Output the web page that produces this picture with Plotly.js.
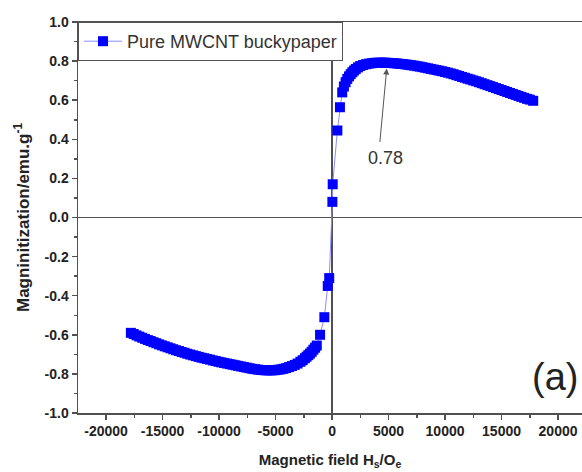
<!DOCTYPE html>
<html>
<head>
<meta charset="utf-8">
<script src="https://cdn.plot.ly/plotly-3.0.1.min.js"></script>
<style>html,body{margin:0;padding:0;background:#fff;}#chart{width:582px;height:472px;}</style>
</head>
<body>
<div id="chart"></div>
<script>
// Magnetic field (Oe)
const fieldOe = [
  -17800, -17550, -17300, -17050, -16800, -16550, -16300, -16050, -15800, -15550,
  -15300, -15050, -14800, -14550, -14300, -14050, -13800, -13550, -13300, -13050,
  -12800, -12550, -12300, -12050, -11800, -11550, -11300, -11050, -10800, -10550,
  -10300, -10050, -9800, -9550, -9300, -9050, -8800, -8550, -8300, -8050,
  -7800, -7550, -7300, -7050, -6800, -6550, -6300, -6050, -5800, -5550,
  -5300, -5050, -4800, -4550, -4300, -4050, -3800, -3550, -3300, -3050,
  -2800, -2600, -2400, -2250, -2100, -1950, -1800, -1650, -1500, -1350,
  -1060, -680, -380, -250,
  30, 60, 470, 700, 900, 1050, 1200, 1350, 1500, 1650,
  1800, 1950, 2100, 2300, 2500, 2750, 3000, 3250, 3500, 3750,
  4000, 4250, 4500, 4750, 5000, 5250, 5500, 5750, 6000, 6250,
  6500, 6750, 7000, 7250, 7500, 7750, 8000, 8250, 8500, 8750,
  9000, 9250, 9500, 9750, 10000, 10250, 10500, 10750, 11000, 11250,
  11500, 11750, 12000, 12250, 12500, 12750, 13000, 13250, 13500, 13750,
  14000, 14250, 14500, 14750, 15000, 15250, 15500, 15750, 16000, 16250,
  16500, 16750, 17000, 17250, 17500, 17800
];
// Magnetization (emu/g)
const magnetization = [
  -0.590, -0.596, -0.603, -0.609, -0.615, -0.621, -0.627, -0.632, -0.638, -0.643,
  -0.649, -0.654, -0.659, -0.664, -0.669, -0.674, -0.679, -0.683, -0.688, -0.692,
  -0.697, -0.701, -0.705, -0.709, -0.713, -0.717, -0.720, -0.724, -0.727, -0.731,
  -0.734, -0.738, -0.741, -0.744, -0.747, -0.750, -0.753, -0.756, -0.759, -0.762,
  -0.765, -0.768, -0.771, -0.774, -0.776, -0.778, -0.780, -0.781, -0.782, -0.782,
  -0.782, -0.781, -0.779, -0.777, -0.774, -0.770, -0.765, -0.760, -0.754, -0.747,
  -0.738, -0.730, -0.720, -0.712, -0.704, -0.696, -0.687, -0.676, -0.666, -0.655,
  -0.600, -0.510, -0.350, -0.310,
  0.080, 0.170, 0.445, 0.564, 0.640, 0.670, 0.692, 0.709, 0.722, 0.733,
  0.743, 0.752, 0.760, 0.768, 0.775, 0.780, 0.784, 0.787, 0.789, 0.791,
  0.792, 0.792, 0.792, 0.792, 0.791, 0.790, 0.789, 0.788, 0.786, 0.785,
  0.783, 0.781, 0.779, 0.777, 0.774, 0.772, 0.769, 0.766, 0.763, 0.760,
  0.757, 0.754, 0.751, 0.748, 0.744, 0.741, 0.737, 0.733, 0.728, 0.724,
  0.719, 0.715, 0.710, 0.706, 0.701, 0.697, 0.692, 0.687, 0.682, 0.677,
  0.672, 0.667, 0.662, 0.657, 0.652, 0.647, 0.642, 0.637, 0.632, 0.627,
  0.622, 0.617, 0.612, 0.607, 0.603, 0.597
];
const seriesName = 'Pure MWCNT buckypaper';

const xTickVals = [-20000, -15000, -10000, -5000, 0, 5000, 10000, 15000, 20000];
const xTickText = ['-20000', '-15000', '-10000', '-5000', '0', '5000', '10000', '15000', '20000'];
const yTickVals = [-1.0, -0.8, -0.6, -0.4, -0.2, 0.0, 0.2, 0.4, 0.6, 0.8, 1.0];
const yTickText = ['-1.0', '-0.8', '-0.6', '-0.4', '-0.2', '0.0', '0.2', '0.4', '0.6', '0.8', '1.0'];

const peakLabel = '0.78';
const peakArrowTip = {x: 4840, y: 0.762};
const peakTextPos = {x: 4735, y: 0.305};
const panelLabel = '(a)';

const FONT = 'Liberation Sans, Arial, sans-serif';

const trace = {
  x: fieldOe,
  y: magnetization,
  type: 'scatter',
  mode: 'lines+markers',
  name: seriesName,
  line: {color: '#8c8cff', width: 1},
  marker: {symbol: 'square', size: 10, color: '#0000ff'}
};

const axisCommon = {
  showgrid: false,
  showline: true,
  linecolor: '#505050',
  linewidth: 1.5,
  zeroline: true,
  zerolinecolor: '#505050',
  zerolinewidth: 1.5,
  ticks: 'outside',
  ticklen: 5,
  tickwidth: 1.5,
  tickcolor: '#505050',
  tickmode: 'array',
  tickfont: {family: FONT, size: 14, weight: 'bold', color: '#222'}
};

const layout = {
  width: 582,
  height: 472,
  margin: {l: 78, r: 0, t: 22, b: 59},
  paper_bgcolor: '#ffffff',
  plot_bgcolor: '#ffffff',
  showlegend: true,
  legend: {
    x: 0, y: 1, xanchor: 'left', yanchor: 'top',
    bgcolor: '#ffffff', bordercolor: '#555', borderwidth: 1,
    itemwidth: 38,
    font: {family: FONT, size: 18, color: '#333'}
  },
  xaxis: Object.assign({}, axisCommon, {
    range: [-22480, 22120],
    mirror: true,
    tickvals: xTickVals,
    ticktext: xTickText,
    minor: {tickmode: 'linear', tick0: 0, dtick: 2500, ticks: 'outside', ticklen: 3, tickcolor: '#505050', tickwidth: 1.5},
    title: {text: '<b>Magnetic field H<sub>s</sub>/O<sub>e</sub></b>', font: {family: FONT, size: 15, color: '#222'}, standoff: 16}
  }),
  yaxis: Object.assign({}, axisCommon, {
    range: [-1, 1],
    tickvals: yTickVals,
    ticktext: yTickText,
    minor: {tickmode: 'linear', tick0: 0, dtick: 0.1, ticks: 'outside', ticklen: 3, tickcolor: '#505050', tickwidth: 1.5},
    title: {text: '<b>Magninitization/emu.g<sup>-1</sup></b>', font: {family: FONT, size: 17, color: '#222'}, standoff: 10}
  }),
  annotations: [
    {
      x: peakArrowTip.x, y: peakArrowTip.y, xref: 'x', yref: 'y',
      text: '', showarrow: true, arrowhead: 2, arrowsize: 1.2, arrowwidth: 1,
      arrowcolor: '#555', ax: -7, ay: 75
    },
    {
      x: peakTextPos.x, y: peakTextPos.y, xref: 'x', yref: 'y',
      text: peakLabel, showarrow: false,
      font: {family: FONT, size: 18, color: '#333'}
    },
    {
      x: 0.946, y: 0.092, xref: 'paper', yref: 'paper',
      xanchor: 'center', yanchor: 'middle',
      text: panelLabel, showarrow: false,
      font: {family: FONT, size: 38, color: '#222'}
    }
  ]
};

Plotly.newPlot('chart', [trace], layout, {displayModeBar: false, staticPlot: true});
</script>
</body>
</html>
